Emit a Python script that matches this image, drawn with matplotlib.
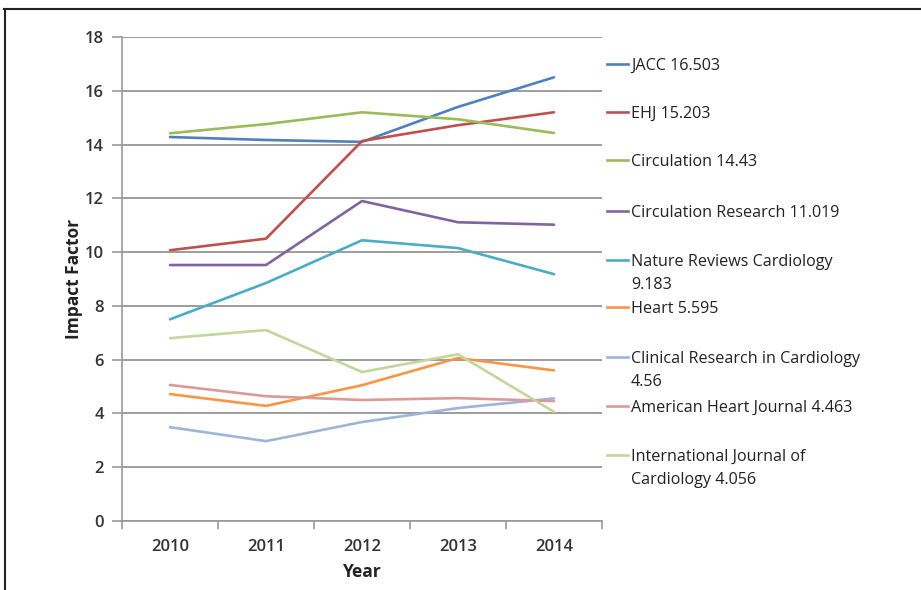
import matplotlib.pyplot as plt
from matplotlib.lines import Line2D

plt.rcParams['font.family'] = ['Open Sans', 'DejaVu Sans']

years = ['2010', '2011', '2012', '2013', '2014']

jacc = [14.28, 14.17, 14.10, 15.40, 16.50]
ehj = [10.07, 10.50, 14.13, 14.72, 15.20]
circulation = [14.42, 14.76, 15.20, 14.94, 14.43]
circ_research = [9.52, 9.52, 11.90, 11.11, 11.02]
nat_rev_cardio = [7.50, 8.85, 10.44, 10.15, 9.18]
heart = [4.72, 4.28, 5.05, 6.06, 5.60]
clin_res_cardio = [3.49, 2.97, 3.68, 4.20, 4.56]
am_heart_j = [5.06, 4.64, 4.50, 4.57, 4.46]
int_j_cardio = [6.80, 7.10, 5.54, 6.20, 4.06]

labels = ['JACC 16.503', 'EHJ 15.203', 'Circulation 14.43',
          'Circulation Research 11.019', 'Nature Reviews Cardiology\n9.183',
          'Heart 5.595', 'Clinical Research in Cardiology\n4.56',
          'American Heart Journal 4.463', 'International Journal of\nCardiology 4.056']
series = [jacc, ehj, circulation, circ_research, nat_rev_cardio,
          heart, clin_res_cardio, am_heart_j, int_j_cardio]
colors = ['#4F81BD', '#C0504D', '#9BBB59', '#8064A2', '#4BACC6',
          '#F79646', '#9DB5DA', '#DA9A9A', '#C3D69B']

W, H = 921, 590
fig = plt.figure(figsize=(W / 100, H / 100), dpi=100)
ax = fig.add_axes([122 / W, 1 - 521 / H, 480 / W, 484 / H])

x = range(len(years))
for vals, c in zip(series, colors):
    ax.plot(x, vals, color=c, lw=1.9, solid_capstyle='round', zorder=3)

ax.set_xlim(-0.5, 4.5)
ax.set_ylim(0, 18)
ax.set_yticks(range(0, 19, 2))
ax.set_xticks(list(x))
ax.set_xticklabels(years, fontweight='semibold')
ax.set_yticklabels([str(v) for v in range(0, 19, 2)], fontweight='semibold')
ax.set_xticks([i + 0.5 for i in range(-1, 5)], minor=True)
ax.tick_params(axis='x', which='major', length=0, pad=13, labelsize=12, labelcolor='#333333')
ax.tick_params(axis='x', which='minor', length=6, color='#999999', width=1.2)
ax.tick_params(axis='y', length=7, color='#999999', width=1.2, pad=6,
               labelsize=12, labelcolor='#333333')
ax.yaxis.grid(True, color='#8c8c8c', lw=1.2)
ax.set_axisbelow(True)
for s in ['top', 'right']:
    ax.spines[s].set_visible(False)
for s in ['left', 'bottom']:
    ax.spines[s].set_color('#999999')
    ax.spines[s].set_linewidth(1.2)

ax.set_ylabel('Impact Factor', fontsize=12.5, fontweight='bold', color='#222222', labelpad=1)
ax.set_xlabel('Year', fontsize=12.5, fontweight='bold', color='#222222', labelpad=6)

# legend drawn by hand to keep Excel-like spacing
leg_y = [64, 112, 160, 211, 260, 307, 357, 406, 455]
for lab, c, yy in zip(labels, colors, leg_y):
    fig.add_artist(Line2D([607 / W, 628 / W], [1 - yy / H, 1 - yy / H], color=c, lw=1.9))
    fig.text(631 / W, 1 - (yy - 6) / H, lab, fontsize=11.6, fontweight='medium',
             color='#222222', va='top', ha='left', linespacing=1.55)

# frame of the original screenshot
fig.add_artist(Line2D([4 / W, 1], [1 - 8.5 / H, 1 - 8.5 / H], color='#222222', lw=1.5))
fig.add_artist(Line2D([5 / W, 5 / W], [0, 1 - 8.5 / H], color='#222222', lw=1.5))

fig.savefig('out.png', dpi=100)
